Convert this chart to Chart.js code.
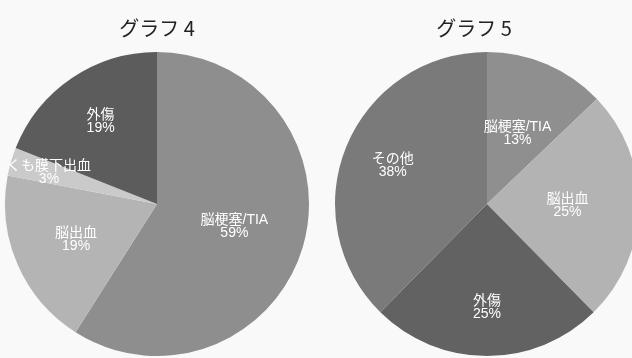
<!DOCTYPE html>
<html lang="ja">
<head>
<meta charset="utf-8">
<script src="https://cdn.jsdelivr.net/npm/chart.js@4.4.1/dist/chart.umd.min.js"></script>
<style>
  html, body { margin: 0; padding: 0; background: #f9f9f9; }
  body { width: 632px; height: 358px; overflow: hidden; position: relative; }
  .box { position: absolute; top: 0; height: 358px; }
  #box4 { left: 0; width: 314px; }
  #box5 { left: 330px; width: 314px; }
</style>
</head>
<body>
<div class="box" id="box4"><canvas id="chart4"></canvas></div>
<div class="box" id="box5"><canvas id="chart5"></canvas></div>
<script>
// グラフ 4
const labels4 = ['脳梗塞/TIA', '脳出血', 'くも膜下出血', '外傷'];
const values4 = [59, 19, 3, 19];

// グラフ 5
const labels5 = ['脳梗塞/TIA', '脳出血', '外傷', 'その他'];
const values5 = [13, 25, 25, 38];

const FONT = '"Noto Sans CJK JP", "Noto Sans", sans-serif';
const LABEL_FONT = '"Liberation Sans", "Noto Sans CJK JP", sans-serif';

// Draw "name / nn%" inside each slice
const sliceLabels = {
  id: 'sliceLabels',
  afterDatasetsDraw(chart, args, opts) {
    const ctx = chart.ctx;
    const meta = chart.getDatasetMeta(0);
    const data = chart.data.datasets[0].data;
    ctx.save();
    ctx.fillStyle = '#ffffff';
    ctx.font = '14px ' + LABEL_FONT;
    ctx.textAlign = 'center';
    ctx.textBaseline = 'middle';
    meta.data.forEach((arc, i) => {
      const p = arc.getProps(['x', 'y', 'startAngle', 'endAngle', 'outerRadius'], true);
      const mid = (p.startAngle + p.endAngle) / 2;
      const r = p.outerRadius * (opts.radius[i] || 0.6);
      const x = p.x + Math.cos(mid) * r;
      const y = p.y + Math.sin(mid) * r;
      ctx.fillText(chart.data.labels[i], x, y - 6);
      ctx.fillText(data[i] + '%', x, y + 7);
    });
    ctx.restore();
  }
};

// Nudge the title sideways when the pie is clipped by the page edge
const titleShift = {
  id: 'titleShift',
  afterLayout(chart, args, opts) {
    if (chart.titleBlock && opts.dx) {
      chart.titleBlock.left += opts.dx;
      chart.titleBlock.right += opts.dx;
    }
  }
};

function makePie(id, title, labels, values, colors, radius, dx) {
  return new Chart(document.getElementById(id), {
    type: 'pie',
    data: {
      labels: labels,
      datasets: [{
        data: values,
        backgroundColor: colors,
        borderWidth: 0
      }]
    },
    options: {
      responsive: true,
      maintainAspectRatio: false,
      animation: false,
      layout: { padding: { bottom: 2 } },
      plugins: {
        legend: { display: false },
        tooltip: { enabled: false },
        title: {
          display: true,
          text: title,
          color: '#222222',
          font: { family: FONT, size: 20, weight: 'normal' },
          padding: { top: 16, bottom: 12 }
        },
        sliceLabels: { radius: radius },
        titleShift: { dx: dx }
      }
    },
    plugins: [sliceLabels, titleShift]
  });
}

makePie('chart4', 'グラフ 4', labels4, values4,
  ['#8e8e8e', '#b4b4b4', '#cacaca', '#5c5c5c'],
  [0.53, 0.58, 0.74, 0.66], 0);

makePie('chart5', 'グラフ 5', labels5, values5,
  ['#8f8f8f', '#b3b3b3', '#626262', '#7a7a7a'],
  [0.51, 0.53, 0.68, 0.67], -13);
</script>
</body>
</html>
